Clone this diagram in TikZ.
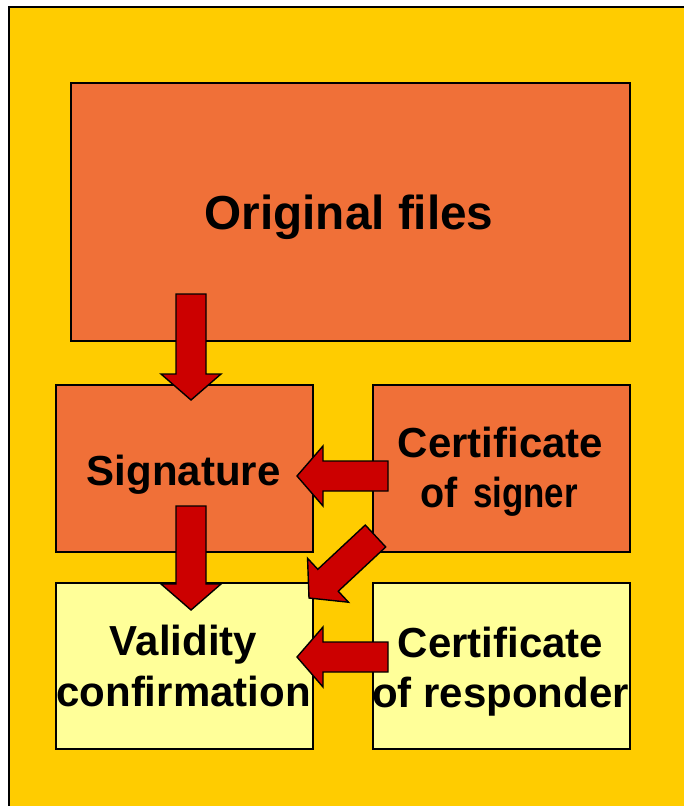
\documentclass[tikz,border=0pt]{standalone}
\usepackage{fontspec}
\setmainfont{Liberation Sans}
\usetikzlibrary{calc}
\definecolor{bgyellow}{HTML}{FFCC00}
\definecolor{boxorange}{HTML}{F07038}
\definecolor{boxlight}{HTML}{FFFF99}
\definecolor{arrowred}{HTML}{CC0000}
\tikzset{
  box/.style={draw=black, line width=1.6pt},
  orangebox/.style={box, fill=boxorange},
  lightbox/.style={box, fill=boxlight},
  lbl/.style={anchor=base, inner sep=0pt, font=\bfseries\fontsize{42}{44}\selectfont},
  biglbl/.style={anchor=base, inner sep=0pt, font=\bfseries\fontsize{47.7}{50}\selectfont},
  fatarrow/.style={draw=black, line width=1.4pt, fill=arrowred, line join=miter},
}
\newcommand{\fatarr}[3]{% #1 start coord, #2 tip coord, #3 head-base name
  \coordinate (#3) at ($(#2)!26pt!(#1)$);
  \draw[fatarrow] ($(#1)!15pt!90:(#2)$) -- ($(#3)!15pt!-90:(#1)$) -- ($(#3)!30pt!-90:(#1)$) -- (#2)
     -- ($(#3)!30pt!90:(#1)$) -- ($(#3)!15pt!90:(#1)$) -- ($(#1)!15pt!-90:(#2)$) -- cycle;
}
\begin{document}
\begin{tikzpicture}[x=1pt,y=-1pt]
\useasboundingbox (0,0) rectangle (684,806);
% background
\fill[bgyellow] (9,7) rectangle (684,806);
\draw[black, line width=2pt] (9,806) -- (9,7) -- (684,7);
% boxes
\node[orangebox, minimum width=559pt, minimum height=258pt, anchor=north west] (orig) at (70,82) {};
\node[orangebox, minimum width=257pt, minimum height=167pt, anchor=north west] (sig) at (55,384) {};
\node[orangebox, minimum width=257pt, minimum height=167pt, anchor=north west] (certs) at (372,384) {};
\node[lightbox, minimum width=257pt, minimum height=166pt, anchor=north west] (valid) at (55,582) {};
\node[lightbox, minimum width=257pt, minimum height=166pt, anchor=north west] (certr) at (372,582) {};
% labels
\node[biglbl] (torig) at (349,229) {Original files};
\node[lbl] (tsig) at (183.5,485) {Signature};
\node[lbl] (tcs1) at (500.5,457) {Certificate};
\node[lbl, anchor=base west] (tcs2a) at (420,507) {\scalebox{0.94}[1]{of}};
\node[lbl, anchor=base west] (tcs2b) at (473,507) {\scalebox{0.83}[1]{signer}};
\node[lbl] (tv1) at (183.5,655) {Validity};
\node[lbl] (tv2) at (183.5,706) {confirmation};
\node[lbl] (tcr1) at (500.5,657) {Certificate};
\node[lbl] (tcr2) at (500.5,707) {of responder};
% arrows
\coordinate (a1s) at (191,294); \coordinate (a1t) at (191,400);
\coordinate (a2s) at (191,506); \coordinate (a2t) at (191,610);
\coordinate (a3s) at (388,476); \coordinate (a3t) at (297,476);
\coordinate (a4s) at (388,657); \coordinate (a4t) at (297,657);
\coordinate (a5s) at (375.5,536); \coordinate (a5t) at (309,598);
\fatarr{a1s}{a1t}{a1h}
\fatarr{a2s}{a2t}{a2h}
\fatarr{a3s}{a3t}{a3h}
\fatarr{a4s}{a4t}{a4h}
\fatarr{a5s}{a5t}{a5h}
\end{tikzpicture}
\end{document}
